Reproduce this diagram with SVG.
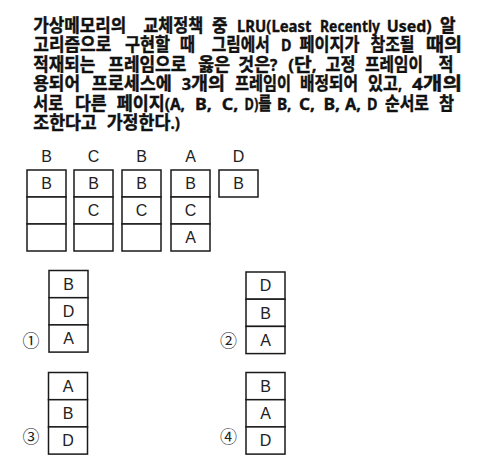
<svg xmlns="http://www.w3.org/2000/svg" width="481" height="473" viewBox="0 0 481 473">
<style>
.h{font-family:"Noto Sans CJK KR","Noto Sans",sans-serif;font-weight:bold;font-size:18px;fill:#111;stroke:#111;stroke-width:0.45}
.e{font-family:"Noto Sans","Noto Sans CJK KR",sans-serif;font-weight:bold;font-size:16px;fill:#111;stroke:#111;stroke-width:0.35}
.c{fill:#fff;stroke:#1a1a1a;stroke-width:1.5}
.l{font-family:"Liberation Sans","DejaVu Sans",sans-serif;font-size:16px;fill:#222;text-anchor:middle}
.n{font-family:"Noto Sans CJK KR","DejaVu Sans",sans-serif;font-size:17px;fill:#222;text-anchor:middle}
</style>
<rect width="481" height="473" fill="#fff"/>
<g id="question">
<text class="h" x="33.3" y="31.5" textLength="93" lengthAdjust="spacingAndGlyphs">가상메모리의</text>
<text class="h" x="143.3" y="31.5" textLength="60" lengthAdjust="spacingAndGlyphs">교체정책</text>
<text class="h" x="212" y="31.5" textLength="15.5" lengthAdjust="spacingAndGlyphs">중</text>
<text class="e" x="237" y="31.5" textLength="74.5" lengthAdjust="spacingAndGlyphs">LRU(Least</text>
<text class="e" x="320" y="31.5" textLength="60" lengthAdjust="spacingAndGlyphs">Recently</text>
<text class="e" x="386.7" y="31.5" textLength="45" lengthAdjust="spacingAndGlyphs">Used)</text>
<text class="h" x="440" y="31.5" textLength="15.5" lengthAdjust="spacingAndGlyphs">알</text>

<text class="h" x="33.3" y="51" textLength="78" lengthAdjust="spacingAndGlyphs">고리즘으로</text>
<text class="h" x="125" y="51" textLength="45" lengthAdjust="spacingAndGlyphs">구현할</text>
<text class="h" x="180" y="51" textLength="15" lengthAdjust="spacingAndGlyphs">때</text>
<text class="h" x="211.7" y="51" textLength="58" lengthAdjust="spacingAndGlyphs">그림에서</text>
<text class="e" x="281" y="51" textLength="10.5" lengthAdjust="spacingAndGlyphs">D</text>
<text class="h" x="299.5" y="51" textLength="60" lengthAdjust="spacingAndGlyphs">페이지가</text>
<text class="h" x="370.5" y="51" textLength="44" lengthAdjust="spacingAndGlyphs">참조될</text>
<text class="h" x="426" y="51" textLength="36" lengthAdjust="spacingAndGlyphs">때의</text>

<text class="h" x="33.3" y="70.5" textLength="62" lengthAdjust="spacingAndGlyphs">적재되는</text>
<text class="h" x="108.3" y="70.5" textLength="78" lengthAdjust="spacingAndGlyphs">프레임으로</text>
<text class="h" x="198.3" y="70.5" textLength="31.7" lengthAdjust="spacingAndGlyphs">옳은</text>
<text class="h" x="238.3" y="70.5" textLength="39" lengthAdjust="spacingAndGlyphs">것은<tspan class="e">?</tspan></text>
<text class="h" x="288.3" y="70.5" textLength="28.4" lengthAdjust="spacingAndGlyphs"><tspan class="e">(</tspan>단<tspan class="e">,</tspan></text>
<text class="h" x="325.5" y="70.5" textLength="30" lengthAdjust="spacingAndGlyphs">고정</text>
<text class="h" x="365" y="70.5" textLength="58" lengthAdjust="spacingAndGlyphs">프레임이</text>
<text class="h" x="438.5" y="70.5" textLength="15" lengthAdjust="spacingAndGlyphs">적</text>

<text class="h" x="33.3" y="90" textLength="46.7" lengthAdjust="spacingAndGlyphs">용되어</text>
<text class="h" x="91.7" y="90" textLength="80" lengthAdjust="spacingAndGlyphs">프로세스에</text>
<text class="h" x="181.7" y="90" textLength="43.3" lengthAdjust="spacingAndGlyphs"><tspan class="e">3</tspan>개의</text>
<text class="h" x="235" y="90" textLength="56" lengthAdjust="spacingAndGlyphs">프레임이</text>
<text class="h" x="300" y="90" textLength="58" lengthAdjust="spacingAndGlyphs">배정되어</text>
<text class="h" x="368" y="90" textLength="34" lengthAdjust="spacingAndGlyphs">있고<tspan class="e">,</tspan></text>
<text class="h" x="412" y="90" textLength="50" lengthAdjust="spacingAndGlyphs"><tspan class="e">4</tspan>개의</text>

<text class="h" x="33.3" y="109.7" textLength="30" lengthAdjust="spacingAndGlyphs">서로</text>
<text class="h" x="75" y="109.7" textLength="31.7" lengthAdjust="spacingAndGlyphs">다른</text>
<text class="h" x="116.7" y="109.7" textLength="68.3" lengthAdjust="spacingAndGlyphs">페이지<tspan class="e">(A,</tspan></text>
<text class="e" x="195" y="109.7" textLength="16.7" lengthAdjust="spacingAndGlyphs">B,</text>
<text class="e" x="221.7" y="109.7" textLength="16.6" lengthAdjust="spacingAndGlyphs">C,</text>
<text class="h" x="244.5" y="109.7" textLength="27" lengthAdjust="spacingAndGlyphs"><tspan class="e">D)</tspan>를</text>
<text class="e" x="277" y="109.7" textLength="14.5" lengthAdjust="spacingAndGlyphs">B,</text>
<text class="e" x="299" y="109.7" textLength="16" lengthAdjust="spacingAndGlyphs">C,</text>
<text class="e" x="323.5" y="109.7" textLength="16.5" lengthAdjust="spacingAndGlyphs">B,</text>
<text class="e" x="345" y="109.7" textLength="16" lengthAdjust="spacingAndGlyphs">A,</text>
<text class="e" x="367" y="109.7" textLength="10.5" lengthAdjust="spacingAndGlyphs">D</text>
<text class="h" x="385" y="109.7" textLength="44" lengthAdjust="spacingAndGlyphs">순서로</text>
<text class="h" x="439" y="109.7" textLength="15" lengthAdjust="spacingAndGlyphs">참</text>

<text class="h" x="33.3" y="129.3" textLength="63.4" lengthAdjust="spacingAndGlyphs">조한다고</text>
<text class="h" x="106.7" y="129.3" textLength="73.3" lengthAdjust="spacingAndGlyphs">가정한다<tspan class="e">.)</tspan></text>
</g>
<g id="connectors"></g>
<g id="step1">
<text class="l" x="46.5" y="162">B</text>
<rect class="c" x="27" y="170" width="39" height="27"/><rect class="c" x="27" y="197" width="39" height="27"/><rect class="c" x="27" y="224" width="39" height="27"/>
<text class="l" x="46.5" y="189.2">B</text>
</g>
<g id="step2">
<text class="l" x="93.5" y="162">C</text>
<rect class="c" x="74" y="170" width="39" height="27"/><rect class="c" x="74" y="197" width="39" height="27"/><rect class="c" x="74" y="224" width="39" height="27"/>
<text class="l" x="93.5" y="189.2">B</text><text class="l" x="93.5" y="216.2">C</text>
</g>
<g id="step3">
<text class="l" x="141.5" y="162">B</text>
<rect class="c" x="122" y="170" width="39" height="27"/><rect class="c" x="122" y="197" width="39" height="27"/><rect class="c" x="122" y="224" width="39" height="27"/>
<text class="l" x="141.5" y="189.2">B</text><text class="l" x="141.5" y="216.2">C</text>
</g>
<g id="step4">
<text class="l" x="190.5" y="162">A</text>
<rect class="c" x="171" y="170" width="39" height="27"/><rect class="c" x="171" y="197" width="39" height="27"/><rect class="c" x="171" y="224" width="39" height="27"/>
<text class="l" x="190.5" y="189.2">B</text><text class="l" x="190.5" y="216.2">C</text><text class="l" x="190.5" y="243.2">A</text>
</g>
<g id="step5">
<text class="l" x="238.5" y="162">D</text>
<rect class="c" x="219" y="170" width="39" height="27"/>
<text class="l" x="238.5" y="189.2">B</text>
</g>
<g id="option1">
<rect class="c" x="49" y="270.5" width="39" height="27.2"/><rect class="c" x="49" y="297.7" width="39" height="27.2"/><rect class="c" x="49" y="324.9" width="39" height="27.2"/>
<text class="l" x="68.5" y="289.8">B</text><text class="l" x="68.5" y="317">D</text><text class="l" x="68.5" y="344.2">A</text>
<text class="n" x="31" y="347">①</text>
</g>
<g id="option2">
<rect class="c" x="246" y="272" width="39" height="27.2"/><rect class="c" x="246" y="299.2" width="39" height="27.2"/><rect class="c" x="246" y="326.4" width="39" height="27.2"/>
<text class="l" x="265.5" y="291.3">D</text><text class="l" x="265.5" y="318.5">B</text><text class="l" x="265.5" y="345.7">A</text>
<text class="n" x="228.5" y="347">②</text>
</g>
<g id="option3">
<rect class="c" x="48.5" y="372.5" width="39" height="27.2"/><rect class="c" x="48.5" y="399.7" width="39" height="27.2"/><rect class="c" x="48.5" y="426.9" width="39" height="27.2"/>
<text class="l" x="68" y="391.8">A</text><text class="l" x="68" y="419">B</text><text class="l" x="68" y="446.2">D</text>
<text class="n" x="31" y="442.5">③</text>
</g>
<g id="option4">
<rect class="c" x="246" y="372.5" width="39" height="27.2"/><rect class="c" x="246" y="399.7" width="39" height="27.2"/><rect class="c" x="246" y="426.9" width="39" height="27.2"/>
<text class="l" x="265.5" y="391.8">B</text><text class="l" x="265.5" y="419">A</text><text class="l" x="265.5" y="446.2">D</text>
<text class="n" x="228.5" y="442.5">④</text>
</g>
</svg>
